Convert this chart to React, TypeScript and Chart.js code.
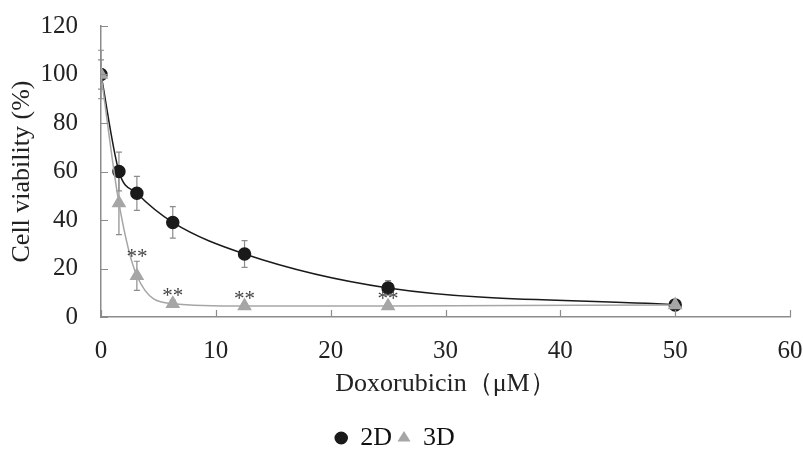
import React, { useEffect, useRef } from "react";
import { Chart, registerables } from "chart.js";

Chart.register(...registerables);

const concentrations = [0, 1.5625, 3.125, 6.25, 12.5, 25, 50];
const viability2D = [100, 60, 51, 39, 26, 12, 5];
const error2D = [10, 8, 7, 6.5, 5.5, 3, 1];
const viability3D = [100, 47, 17, 5.5, 4.5, 4.5, 5];
const error3D = [6, 13, 6, 1.5, 1, 1, 1];
const significance3D = ["", "", "**", "**", "**", "**", ""];

const FONT = "\"Liberation Serif\", \"Times New Roman\", serif";

const errorBarPlugin = {
  id: "errorBars",
  beforeDatasetsDraw(chart: any) {
    const { ctx, scales } = chart;
    const xs = scales.x;
    const ys = scales.y;
    const sets = [
      { vals: viability2D, errs: error2D },
      { vals: viability3D, errs: error3D },
    ];
    ctx.save();
    ctx.strokeStyle = "#8c8c8c";
    ctx.lineWidth = 1.2;
    sets.forEach((s) => {
      concentrations.forEach((c, i) => {
        const px = xs.getPixelForValue(c);
        const top = ys.getPixelForValue(s.vals[i] + s.errs[i]);
        const bot = ys.getPixelForValue(Math.max(0, s.vals[i] - s.errs[i]));
        ctx.beginPath();
        ctx.moveTo(px, top);
        ctx.lineTo(px, bot);
        ctx.moveTo(px - 3, top);
        ctx.lineTo(px + 3, top);
        ctx.moveTo(px - 3, bot);
        ctx.lineTo(px + 3, bot);
        ctx.stroke();
      });
    });
    ctx.restore();
  },
  afterDatasetsDraw(chart: any) {
    const { ctx, scales } = chart;
    const xs = scales.x;
    const ys = scales.y;
    ctx.save();
    ctx.fillStyle = "#444";
    ctx.font = `21px ${FONT}`;
    ctx.textAlign = "center";
    ctx.textBaseline = "middle";
    concentrations.forEach((c, i) => {
      if (!significance3D[i]) return;
      const px = xs.getPixelForValue(c);
      const py = ys.getPixelForValue(viability3D[i] + error3D[i]);
      ctx.fillText(significance3D[i], px, py - 4);
    });
    ctx.restore();
  },
  afterDraw(chart: any) {
    const { ctx, scales, chartArea } = chart;
    const xs = scales.x;
    const ys = scales.y;
    ctx.save();
    ctx.strokeStyle = "#8c8c8c";
    ctx.lineWidth = 1.2;
    ctx.beginPath();
    xs.ticks.forEach((t: any) => {
      const px = Math.round(xs.getPixelForValue(t.value)) + 0.5;
      ctx.moveTo(px, chartArea.bottom);
      ctx.lineTo(px, chartArea.bottom - 7);
    });
    ys.ticks.forEach((t: any) => {
      const py = Math.round(ys.getPixelForValue(t.value)) + 0.5;
      ctx.moveTo(chartArea.left, py);
      ctx.lineTo(chartArea.left + 7, py);
    });
    ctx.stroke();
    ctx.restore();
  },
};

export default function App() {
  const ref = useRef<HTMLCanvasElement>(null);
  useEffect(() => {
    if (!ref.current) return;
    const chart = new Chart(ref.current, {
      type: "line",
      data: {
        datasets: [
          {
            label: "2D",
            data: concentrations.map((x, i) => ({ x, y: viability2D[i] })),
            borderColor: "#1a1a1a",
            backgroundColor: "#1a1a1a",
            pointStyle: "circle",
            pointRadius: 6,
            borderWidth: 1.5,
            cubicInterpolationMode: "monotone",
            order: 1,
          },
          {
            label: "3D",
            data: concentrations.map((x, i) => ({ x, y: viability3D[i] })),
            borderColor: "#a6a6a6",
            backgroundColor: "#a6a6a6",
            pointStyle: "triangle",
            pointRadius: 7,
            borderWidth: 1.5,
            cubicInterpolationMode: "monotone",
            order: 0,
          },
        ],
      },
      options: {
        animation: false,
        responsive: false,
        maintainAspectRatio: false,
        layout: { padding: { left: 0, right: 13, top: 26, bottom: -11 } },
        plugins: {
          legend: {
            position: "bottom",
            labels: {
              usePointStyle: true,
              pointStyleWidth: 12,
              boxHeight: 8,
              color: "#111",
              font: { family: FONT, size: 26 },
              padding: 6,
              sort: (a: any, b: any) => a.datasetIndex - b.datasetIndex,
            },
          },
          tooltip: { enabled: false },
        },
        scales: {
          x: {
            type: "linear",
            min: 0,
            max: 60,
            afterFit: (s: any) => { s.height = 102; s.paddingLeft = 0; s.paddingRight = 0; },
            ticks: { stepSize: 10, color: "#222", font: { family: FONT, size: 25 }, padding: 19, maxRotation: 0 },
            grid: { display: false, drawTicks: false },
            border: { color: "#8c8c8c", width: 1.5 },
            title: {
              display: true,
              text: "Doxorubicin（μM）",
              color: "#222",
              font: { family: FONT, size: 26 },
              padding: { top: 4, bottom: 19 },
            },
          },
          y: {
            min: 0,
            max: 120,
            afterFit: (s: any) => { s.width = 101; s.paddingTop = 0; s.paddingBottom = 0; },
            ticks: { stepSize: 20, color: "#222", font: { family: FONT, size: 25 }, padding: 23 },
            grid: { display: false, drawTicks: false },
            border: { color: "#8c8c8c", width: 1.5 },
            title: {
              display: true,
              text: "Cell viability (%)",
              color: "#222",
              font: { family: FONT, size: 26 },
              padding: { top: 7, bottom: 4 },
            },
          },
        },
      },
      plugins: [errorBarPlugin],
    } as any);
    return () => chart.destroy();
  }, []);
  return (
    <div style={{ position: "absolute", left: 0, top: 0, width: 803, height: 450, background: "#fff" }}>
      <canvas ref={ref} width={803} height={450} />
    </div>
  );
}
